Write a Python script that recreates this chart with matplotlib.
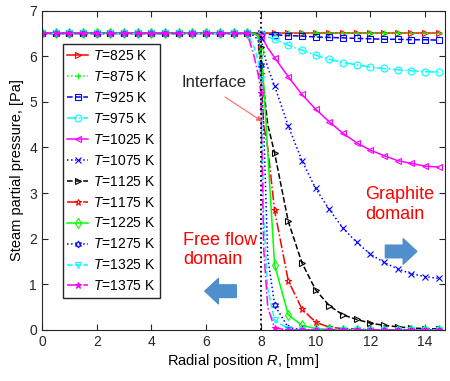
# -*- coding: UTF-8 -*-
import numpy as np
import matplotlib
matplotlib.use("Agg")
import matplotlib.pyplot as plt

plt.rcParams['font.family'] = ['Liberation Sans', 'DejaVu Sans']
plt.rcParams['mathtext.fontset'] = 'custom'
plt.rcParams['mathtext.it'] = 'Liberation Sans:italic'

# Radial positions [mm]: free flow region, points around the interface, graphite region
r_free = [0, 0.5, 1, 1.5, 2, 2.5, 3, 3.5, 4, 4.5, 5, 5.5, 6, 6.5, 7, 7.5]
r_near = [7.75, 7.9, 8.0, 8.1, 8.25]
r_graph = [8.5, 9, 9.5, 10, 10.5, 11, 11.5, 12, 12.5, 13, 13.5, 14, 14.5]

p_free = [6.5] * 16  # every temperature is flat in the free flow region

# values near the interface (r_near) and in the graphite (r_graph)
p_near = {
    825: [6.5, 6.5, 6.5, 6.5, 6.5],
    875: [6.5, 6.5, 6.5, 6.5, 6.5],
    925: [6.5, 6.5, 6.49, 6.49, 6.48],
    975: [6.5, 6.5, 6.48, 6.46, 6.42],
    1025: [6.5, 6.49, 6.45, 6.35, 6.18],
    1075: [6.5, 6.48, 6.4, 6.1, 5.75],
    1125: [6.5, 6.45, 6.2, 5.3, 4.5],
    1175: [6.5, 6.45, 5.6, 4.5, 4.0],
    1225: [6.5, 6.45, 6.1, 5.4, 3.9],
    1275: [6.45, 6.35, 5.8, 4.5, 1.6],
    1325: [6.2, 5.9, 5.5, 2.5, 0.9],
    1375: [6.0, 5.6, 5.2, 1.8, 0.5],
}
p_graph = {
    825: [6.5] * 13,
    875: [6.5] * 13,
    925: [6.47, 6.45, 6.44, 6.42, 6.41, 6.40, 6.39, 6.38, 6.37, 6.37, 6.36, 6.36, 6.35],
    975: [6.37, 6.24, 6.13, 6.02, 5.93, 5.86, 5.81, 5.76, 5.73, 5.70, 5.68, 5.66, 5.65],
    1025: [5.97, 5.55, 5.16, 4.84, 4.56, 4.31, 4.10, 3.94, 3.82, 3.71, 3.65, 3.59, 3.57],
    1075: [5.35, 4.47, 3.71, 3.10, 2.64, 2.23, 1.92, 1.66, 1.48, 1.34, 1.23, 1.17, 1.13],
    1125: [3.88, 2.38, 1.47, 0.88, 0.53, 0.33, 0.23, 0.15, 0.10, 0.07, 0.04, 0.03, 0.02],
    1175: [2.62, 1.08, 0.46, 0.17, 0.06, 0.03, 0.02, 0.01, 0, 0, 0, 0, 0],
    1225: [1.43, 0.33, 0.10, 0.03, 0.01, 0, 0, 0, 0, 0, 0, 0, 0],
    1275: [0.55, 0.05, 0.01, 0, 0, 0, 0, 0, 0, 0, 0, 0, 0],
    1325: [0.22, 0.02, 0, 0, 0, 0, 0, 0, 0, 0, 0, 0, 0],
    1375: [0.04, 0, 0, 0, 0, 0, 0, 0, 0, 0, 0, 0, 0],
}

# line style, marker, colour, open marker
styles = {
    825: ('-', '>', '#FF0000', True),
    875: (':', '+', '#00FF00', False),
    925: ('--', 's', '#0000FF', True),
    975: ('-.', 'o', '#00FFFF', True),
    1025: ('-', '<', '#FF00FF', True),
    1075: (':', 'x', '#0000FF', False),
    1125: ('--', '>', '#000000', True),
    1175: ('-.', '*', '#FF0000', True),
    1225: ('-', 'd', '#00FF00', True),
    1275: (':', (6, 1, 0), '#0000FF', True),
    1325: ('--', 'v', '#00FFFF', True),
    1375: ('-.', '*', '#FF00FF', False),
}

r = np.array(r_free + r_near + r_graph)
mark_idx = [i for i, v in enumerate(r) if abs(v * 2 - round(v * 2)) < 1e-9]

fig = plt.figure(figsize=(4.5, 3.81), dpi=100)
ax = fig.add_axes([0.0933, 0.134, 0.8957, 0.8384])

for T in p_graph:
    ls, mk, col, hollow = styles[T]
    p = np.array(p_free + p_near[T] + p_graph[T])
    ax.plot(r, p, linestyle=ls, marker=mk, color=col, lw=1.1, ms=5,
            mfc='none' if hollow else col, mew=0.8, markevery=mark_idx,
            label='$T$=%d K' % T)

ax.axvline(8, color='k', ls=':', lw=1.3)

ax.set_xlim(0, 14.73)
ax.set_ylim(0, 7)
ax.set_xticks(np.arange(0, 15, 2))
ax.set_yticks(np.arange(0, 8, 1))
ax.tick_params(direction='in', top=True, right=True, labelsize=10, colors='#262626',
               length=4)
for s in ax.spines.values():
    s.set_color('#262626')
    s.set_linewidth(0.8)
ax.set_xlabel('Radial position $R$, [mm]', fontsize=10.5, labelpad=2)
ax.set_ylabel('Steam partial pressure, [Pa]', fontsize=10.5, labelpad=4)

ax.legend(loc='upper left', bbox_to_anchor=(0.051, 0.895), borderaxespad=0,
          fontsize=10, handlelength=1.5, handletextpad=0.35, labelspacing=0.5,
          borderpad=0.35, fancybox=False, edgecolor='#262626', framealpha=1)

ax.annotate('Interface', xy=(8.05, 4.57), xytext=(6.28, 5.43), fontsize=12,
            ha='center', va='center', color='#262626',
            arrowprops=dict(arrowstyle='-|>', color='#FF6666', lw=0.8,
                            relpos=(0.5, 0), shrinkA=6, shrinkB=0,
                            mutation_scale=8))

ax.text(11.8, 2.75, 'Graphite\ndomain', color='#FF0000', fontsize=13,
        ha='left', va='center', linespacing=1.2)
ax.text(5.15, 1.75, 'Free flow\ndomain', color='#FF0000', fontsize=13,
        ha='left', va='center', linespacing=1.2)

arrow_kw = dict(arrowstyle='simple,head_width=1.3,head_length=0.7,tail_width=0.65',
                color='#4F8FCB', mutation_scale=14, shrinkA=0, shrinkB=0)
ax.annotate('', xy=(13.7, 1.72), xytext=(12.55, 1.72), arrowprops=arrow_kw)
ax.annotate('', xy=(5.95, 0.85), xytext=(7.1, 0.85), arrowprops=arrow_kw)

fig.savefig('out.png', dpi=100)
